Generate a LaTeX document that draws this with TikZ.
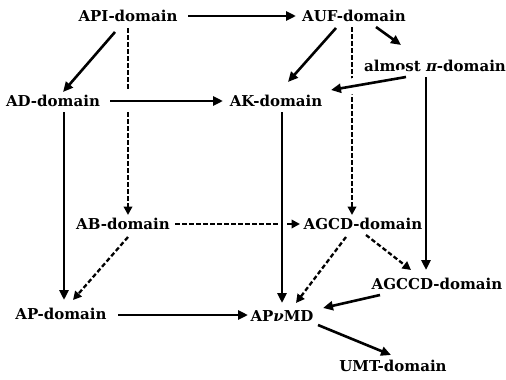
\documentclass[tikz,border=0pt]{standalone}
\usepackage{fontspec}
\setmainfont{DejaVu Serif}
\usetikzlibrary{arrows.meta}
\begin{document}
\begin{tikzpicture}[x=1pt,y=-1pt,
  lbl/.style={font=\bfseries\fontsize{15}{17}\selectfont, inner sep=2pt},
  sol/.style={line width=2.6pt, -{Triangle[length=10pt,width=9pt]}},
  das/.style={line width=2.3pt, dash pattern=on 4.5pt off 2.5pt, -{Triangle[length=8.5pt,width=8.5pt]}},
  gap/.style={preaction={draw=white, line width=#1, -}}]
\useasboundingbox (0,0) rectangle (506,380);
\node[lbl] (api) at (128,16) {API-domain};
\node[lbl] (auf) at (354,16) {AUF-domain};
\node[lbl] (apd) at (435,66) {almost {\itshape π}-domain};
\node[lbl] (ad) at (53,101) {AD-domain};
\node[lbl] (ak) at (276,101) {AK-domain};
\node[lbl] (ab) at (123,224) {AB-domain};
\node[lbl] (agcd) at (363,224) {AGCD-domain};
\node[lbl] (agccd) at (437,284) {AGCCD-domain};
\node[lbl] (ap) at (61,314) {AP-domain};
\node[lbl] (apv) at (282,316) {AP{\itshape ν}MD};
\node[lbl] (umt) at (393,366) {UMT-domain};
% dashed
\draw[das] ([shift={(0,12)}]api.center) -- ([shift={(5,-9)}]ab.center);
\draw[das] ([shift={(-2,11)}]auf.center) -- ([shift={(-11,-9)}]agcd.center);
\draw[das] ([shift={(52,0)}]ab.center) -- ([shift={(-63,0)}]agcd.center);
\draw[das] ([shift={(5,13)}]ab.center) -- ([shift={(12,-14)}]ap.center);
\draw[das] ([shift={(-17,13)}]agcd.center) -- ([shift={(14,-13)}]apv.center);
\draw[das] ([shift={(3,11)}]agcd.center) -- ([shift={(-26,-14)}]agccd.center);
% solid
\draw[sol] ([shift={(60,0)}]api.center) -- ([shift={(-58,0)}]auf.center);
\draw[sol] ([shift={(-13,16)}]api.center) -- ([shift={(10,-9)}]ad.center);
\draw[sol] ([shift={(-18,12)}]auf.center) -- ([shift={(12,-19)}]ak.center);
\draw[sol] ([shift={(22,11)}]auf.center) -- ([shift={(-34,-21)}]apd.center);
\draw[sol, gap=20pt] ([shift={(57,0)}]ad.center) -- ([shift={(-53,0)}]ak.center);
\draw[sol, gap=16pt] ([shift={(-29,11)}]apd.center) -- ([shift={(55,-11)}]ak.center);
\draw[sol] ([shift={(-9,11)}]apd.center) -- ([shift={(-11,-14)}]agccd.center);
\draw[sol] ([shift={(11,11)}]ad.center) -- ([shift={(3,-14)}]ap.center);
\draw[sol, gap=7pt] ([shift={(6,11)}]ak.center) -- ([shift={(0,-13)}]apv.center);
\draw[sol] ([shift={(57,1)}]ap.center) -- ([shift={(-34,-1)}]apv.center);
\draw[sol] ([shift={(-57,11)}]agccd.center) -- ([shift={(41,-8)}]apv.center);
\draw[sol] ([shift={(36,9)}]apv.center) -- ([shift={(-2,-11)}]umt.center);
\end{tikzpicture}
\end{document}
